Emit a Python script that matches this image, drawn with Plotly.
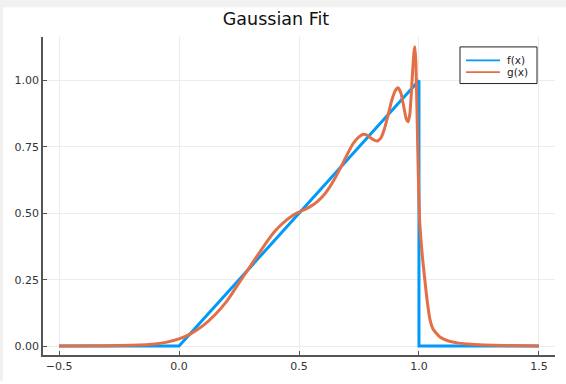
import plotly.graph_objects as go

# f(x): ramp
f_x = [-0.5, 0.0, 1.0, 1.0, 1.5]
f_y = [0.0, 0.0, 1.0, 0.0, 0.0]

# g(x): Gaussian fit
g_x = [-0.5, -0.3, -0.2, -0.1, -0.05, 0.0, 0.05, 0.1, 0.15, 0.2, 0.25, 0.3, 0.35, 0.4,
       0.45, 0.475, 0.5, 0.525, 0.55, 0.575, 0.6, 0.625, 0.65, 0.675, 0.7, 0.725, 0.75,
       0.767, 0.785, 0.805, 0.825, 0.84, 0.855, 0.87, 0.885, 0.9, 0.913, 0.925, 0.937,
       0.947, 0.955, 0.962, 0.968, 0.974, 0.979, 0.983, 0.987, 0.991, 0.995, 0.999,
       1.003, 1.008, 1.015, 1.025, 1.035, 1.046, 1.06, 1.0875, 1.12, 1.16, 1.2, 1.27,
       1.35, 1.5]
g_y = [0.0, 0.001, 0.003, 0.008, 0.015, 0.027, 0.047, 0.077, 0.118, 0.170, 0.238, 0.305,
       0.372, 0.433, 0.476, 0.493, 0.505, 0.515, 0.527, 0.543, 0.565, 0.595, 0.632, 0.675,
       0.720, 0.762, 0.788, 0.798, 0.794, 0.780, 0.772, 0.782, 0.815, 0.865, 0.920, 0.960,
       0.973, 0.952, 0.900, 0.855, 0.845, 0.875, 0.950, 1.040, 1.105, 1.127, 1.070, 0.920,
       0.740, 0.580, 0.470, 0.405, 0.330, 0.245, 0.165, 0.100, 0.062, 0.034, 0.020, 0.012,
       0.008, 0.004, 0.002, 0.0]

x_ticks = [-0.5, 0.0, 0.5, 1.0, 1.5]
x_labels = ["−0.5", "0.0", "0.5", "1.0", "1.5"]
y_ticks = [0.0, 0.25, 0.5, 0.75, 1.0]
y_labels = ["0.00", "0.25", "0.50", "0.75", "1.00"]
series_names = ["f(x)", "g(x)"]
series_colors = ["#009AFA", "#E36F47"]

W, H = 566, 384
ML, MR, MT, MB = 43, 11, 37, 26
PW = W - ML - MR
PH = H - MT - MB


def px2paper(px, py):
    return (px - ML) / PW, 1 - (py - MT) / PH


fig = go.Figure()
fig.add_trace(go.Scatter(x=f_x, y=f_y, mode="lines", name=series_names[0],
                         line=dict(color=series_colors[0], width=3), showlegend=False))
fig.add_trace(go.Scatter(x=g_x, y=g_y, mode="lines", name=series_names[1],
                         line=dict(color=series_colors[1], width=3, shape="spline", smoothing=0.5),
                         showlegend=False))

axis_common = dict(showgrid=True, gridcolor="#ececec", gridwidth=1, zeroline=False,
                   showline=True, linecolor="#555555", linewidth=1.5,
                   ticks="inside", ticklen=4, tickcolor="#555555",
                   tickfont=dict(family="DejaVu Sans", size=11, color="#333333"))

shapes = [
    dict(type="rect", xref="paper", yref="paper", x0=-ML / PW, x1=1 + MR / PW,
         y0=1 + (MT - 7) / PH, y1=1 + MT / PH, fillcolor="#f1f1f1", line=dict(width=0), layer="above"),
    dict(type="rect", xref="paper", yref="paper", x0=-ML / PW, x1=-(ML - 3) / PW,
         y0=-MB / PH, y1=1 + MT / PH, fillcolor="#f1f1f1", line=dict(width=0), layer="above"),
]
# manual legend (box, line samples, labels)
bx0, by0 = px2paper(460, 47)
bx1, by1 = px2paper(537, 84)
shapes.append(dict(type="rect", xref="paper", yref="paper", x0=bx0, x1=bx1, y0=by1, y1=by0,
                   fillcolor="white", line=dict(color="#222222", width=1)))
annotations = []
for i, (nm, col) in enumerate(zip(series_names, series_colors)):
    row_py = 60.5 + 12 * i
    lx0, ly = px2paper(466, row_py)
    lx1, _ = px2paper(500, row_py)
    shapes.append(dict(type="line", xref="paper", yref="paper", x0=lx0, x1=lx1, y0=ly, y1=ly,
                       line=dict(color=col, width=1.8)))
    tx, _ = px2paper(505, row_py)
    annotations.append(dict(xref="paper", yref="paper", x=tx, y=ly, text=nm, showarrow=False,
                            xanchor="left", yanchor="middle",
                            font=dict(family="DejaVu Sans", size=10.5, color="#222222")))

fig.update_layout(
    width=W, height=H,
    margin=dict(l=ML, r=MR, t=MT, b=MB),
    paper_bgcolor="white", plot_bgcolor="white",
    title=dict(text="Gaussian Fit", x=276 / W, xref="container", xanchor="center",
               y=1 - 18.5 / H, yref="container", yanchor="middle",
               font=dict(family="DejaVu Sans", size=17.5, color="#111111")),
    xaxis=dict(range=[-0.567, 1.567], tickvals=x_ticks, ticktext=x_labels, **axis_common),
    yaxis=dict(range=[-0.0336, 1.164], tickvals=y_ticks, ticktext=y_labels, **axis_common),
    showlegend=False,
    shapes=shapes,
    annotations=annotations,
)

fig.write_html("out.html", config={"displayModeBar": False},
               post_script="document.body.style.margin='0';")
